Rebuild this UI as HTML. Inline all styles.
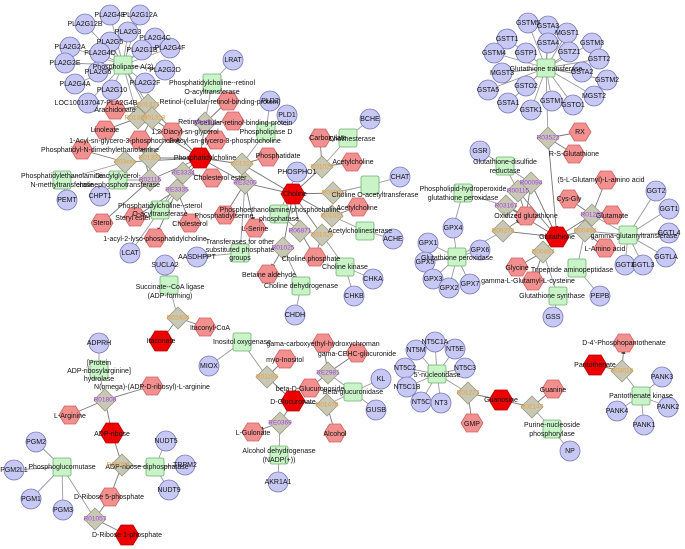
<!DOCTYPE html>
<html><head><meta charset="utf-8"><style>
html,body{margin:0;padding:0;background:#fff;}
svg{display:block;font-family:"Liberation Sans",sans-serif;}
.e{stroke:#9a9a9a;stroke-width:0.9;fill:none;}
.a{stroke:#777;stroke-width:0.9;fill:none;marker-end:url(#ar);}
text{font-size:7px;fill:#111;text-anchor:middle;dominant-baseline:middle;}
.o{fill:#e8a040;font-size:6.5px;}
.p{fill:#a040e0;font-size:6.5px;}
</style></head><body>
<svg width="685" height="549" viewBox="0 0 685 549" xmlns="http://www.w3.org/2000/svg">
<defs>
<marker id="ar" markerWidth="5" markerHeight="5" refX="12" refY="2.5" orient="auto"><path d="M0,0L5,2.5L0,5z" fill="#222"/></marker>
<circle id="g" r="10" fill="#c8c8f4" stroke="#7878b8" stroke-width="0.8"/>
<rect id="s" x="-9" y="-9" width="18" height="18" rx="2" fill="#c8f4c8" stroke="#70b070" stroke-width="0.8"/>
<polygon id="h" points="-11,0 -5.5,-9 5.5,-9 11,0 5.5,9 -5.5,9" fill="#f29090" stroke="#d06060" stroke-width="0.8"/>
<polygon id="r" points="-12,0 -6,-10 6,-10 12,0 6,10 -6,10" fill="#ee0000" stroke="#b00000" stroke-width="0.8"/>
<polygon id="d" points="0,-11 11,0 0,11 -11,0" fill="#c8c8b4" stroke="#9a9a88" stroke-width="0.8"/>
</defs>

<!-- edges: PLA cluster -->
<g class="e">
<path d="M110,15L123,65M140,15L123,65M85,24L123,65M128,32L123,65M110,42L123,65M155,38L123,65M142,50L123,65M170,48L123,65M70,47L123,65M100,53L123,65M65,63L123,65M165,70L123,65M75,84L123,65M98,72L123,65M145,83L123,65M112,90L123,65M88,103L123,65"/>
<path d="M123,65L148,105M123,65L138,118M123,65L152,118"/>
<path d="M233,60L212,83M212,83L205,123M270,101L266,132M287,115L266,132M266,132L242,164"/>
<path d="M67,200L62,180M62,180L125,162M100,196L118,180M118,180L150,180M130,253L160,210M160,210L183,173M160,210L177,190"/>
<path d="M197,257L240,253M240,253L245,183M297,172L279,214M279,214L300,231"/>
<path d="M370,119L348,138M348,138L322,167M400,177L370,185M370,185L333,193M393,239L365,231M365,231L332,216M373,279L345,267M354,296L345,267M345,267L322,235M295,315L301,286M301,286L283,248"/>
<!-- GST -->
<path d="M528,23L546,68M548,26L546,68M567,33L546,68M507,39L546,68M548,43L546,68M592,43L546,68M494,53L546,68M526,53L546,68M569,52L546,68M599,59L546,68M502,73L546,68M582,72L546,68M607,80L546,68M526,86L546,68M488,90L546,68M594,96L546,68M508,103L546,68M552,101L546,68M573,105L546,68M531,110L546,68M546,68L548,138"/>
<path d="M480,151L505,166M505,166L531,183M505,166L518,191M453,228L463,193M463,193L506,206"/>
<path d="M428,243L457,257M425,262L457,257M480,250L457,257M433,279L457,257M449,288L457,257M470,284L457,257M453,228L457,257M457,257L503,231"/>
<path d="M553,317L558,296M558,296L543,252M600,296L577,268M577,268L585,231M656,191L628,235M669,209L628,235M669,233L628,235M666,257L628,235M625,265L628,235M643,265L628,235M628,235L585,231M628,235L592,215"/>
<!-- bottom -->
<path d="M165,265L169,285M169,285L178,318M99,343L99,370M99,370L105,400M166,441L155,467M185,465L155,467M169,490L155,467M155,467L122,465"/>
<path d="M36,442L62,467M14,470L62,467M31,499L62,467M63,510L62,467M62,467L95,519"/>
<path d="M209,366L242,342M242,342L267,377M376,410L353,392M381,379L353,392M353,392L327,405M353,392L328,373M278,482L279,455M279,455L280,423"/>
<path d="M416,350L437,374M435,342L437,374M455,349L437,374M405,368L437,374M465,368L437,374M407,387L437,374M421,402L437,374M441,403L437,374M437,374L468,393M570,451L552,429M552,429L532,407"/>
<path d="M662,377L641,396M668,407L641,396M617,411L641,396M644,425L641,396M641,396L622,371"/>
</g>
<g class="a">
<path d="M148,105L115,110M138,118L105,130M152,118L172,132M148,105L200,158M152,118L140,140M138,118L200,158"/>
<path d="M205,123L228,101M205,123L233,121M205,123L200,158M205,123L216,140"/>
<path d="M242,164L268,157M242,164L200,158M242,164L293,194"/>
<path d="M125,162L82,150M125,162L200,158M150,158L200,158M150,158L140,140M150,158L172,132M150,180L200,158M150,180L102,223M150,180L140,140"/>
<path d="M183,173L200,158M183,173L212,178M177,190L190,223M177,190L135,217M177,190L200,158M177,190L155,238"/>
<path d="M245,183L200,158M245,183L293,194M245,183L225,215M245,183L255,228"/>
<path d="M300,231L293,194M300,231L315,257M322,167L293,194M322,167L320,138M322,167L352,162M333,193L293,194M332,216L358,207M332,216L293,194M322,235L293,194M322,235L315,257M283,248L293,194M283,248L268,274"/>
<path d="M548,138L580,132M548,138L574,154M548,138L557,237"/>
<path d="M531,183L526,216M531,183L557,237M518,191L526,216M518,191L557,237M506,206L526,216M506,206L557,237M503,231L557,237M503,231L526,216"/>
<path d="M543,252L517,267M543,252L533,281M543,252L557,237M585,231L557,237M585,231L605,248M592,215L569,199M592,215L606,180M592,215L612,215M592,215L557,237"/>
<path d="M178,318L205,327M178,318L161,341M105,400L152,386M105,400L70,415M105,400L112,433M112,433L122,465M122,465L110,497M95,519L110,497M95,519L127,535"/>
<path d="M267,377L285,359M267,377L293,401M328,373L323,343M328,373L357,353M328,373L310,388M327,405L293,401M327,405L335,433M280,423L293,401M280,423L253,432"/>
<path d="M468,393L472,423M468,393L501,400M532,407L501,400M532,407L553,389M622,371L595,365M622,371L624,343"/>
</g>

<!-- genes -->
<g>
<use href="#g" x="110" y="15"/><use href="#g" x="140" y="15"/><use href="#g" x="85" y="24"/><use href="#g" x="128" y="32"/><use href="#g" x="110" y="42"/><use href="#g" x="155" y="38"/><use href="#g" x="142" y="50"/><use href="#g" x="170" y="48"/><use href="#g" x="70" y="47"/><use href="#g" x="100" y="53"/><use href="#g" x="65" y="63"/><use href="#g" x="165" y="70"/><use href="#g" x="75" y="84"/><use href="#g" x="98" y="72"/><use href="#g" x="145" y="83"/><use href="#g" x="112" y="90"/><use href="#g" x="88" y="103"/>
<use href="#g" x="233" y="60"/><use href="#g" x="270" y="101"/><use href="#g" x="287" y="115"/><use href="#g" x="67" y="200"/><use href="#g" x="100" y="196"/><use href="#g" x="130" y="253"/><use href="#g" x="197" y="257"/><use href="#g" x="165" y="265"/><use href="#g" x="297" y="172"/><use href="#g" x="370" y="119"/><use href="#g" x="400" y="177"/><use href="#g" x="393" y="239"/><use href="#g" x="373" y="279"/><use href="#g" x="354" y="296"/><use href="#g" x="295" y="315"/>
<use href="#g" x="528" y="23"/><use href="#g" x="548" y="26"/><use href="#g" x="567" y="33"/><use href="#g" x="507" y="39"/><use href="#g" x="548" y="43"/><use href="#g" x="592" y="43"/><use href="#g" x="494" y="53"/><use href="#g" x="526" y="53"/><use href="#g" x="569" y="52"/><use href="#g" x="599" y="59"/><use href="#g" x="502" y="73"/><use href="#g" x="582" y="72"/><use href="#g" x="607" y="80"/><use href="#g" x="526" y="86"/><use href="#g" x="488" y="90"/><use href="#g" x="594" y="96"/><use href="#g" x="508" y="103"/><use href="#g" x="552" y="101"/><use href="#g" x="573" y="105"/><use href="#g" x="531" y="110"/>
<use href="#g" x="480" y="151"/><use href="#g" x="453" y="228"/><use href="#g" x="428" y="243"/><use href="#g" x="425" y="262"/><use href="#g" x="480" y="250"/><use href="#g" x="433" y="279"/><use href="#g" x="449" y="288"/><use href="#g" x="470" y="284"/><use href="#g" x="553" y="317"/><use href="#g" x="600" y="296"/>
<use href="#g" x="656" y="191"/><use href="#g" x="669" y="209"/><use href="#g" x="669" y="233"/><use href="#g" x="666" y="257"/><use href="#g" x="625" y="265"/><use href="#g" x="643" y="265"/>
<use href="#g" x="99" y="343"/><use href="#g" x="166" y="441"/><use href="#g" x="185" y="465"/><use href="#g" x="169" y="490"/><use href="#g" x="36" y="442"/><use href="#g" x="14" y="470"/><use href="#g" x="31" y="499"/><use href="#g" x="63" y="510"/><use href="#g" x="209" y="366"/><use href="#g" x="381" y="379"/><use href="#g" x="376" y="410"/><use href="#g" x="278" y="482"/>
<use href="#g" x="416" y="350"/><use href="#g" x="435" y="342"/><use href="#g" x="455" y="349"/><use href="#g" x="405" y="368"/><use href="#g" x="465" y="368"/><use href="#g" x="407" y="387"/><use href="#g" x="421" y="402"/><use href="#g" x="441" y="403"/><use href="#g" x="570" y="451"/>
<use href="#g" x="662" y="377"/><use href="#g" x="668" y="407"/><use href="#g" x="617" y="411"/><use href="#g" x="644" y="425"/>
</g>
<!-- enzymes -->
<g>
<use href="#s" x="123" y="65"/><use href="#s" x="212" y="83"/><use href="#s" x="266" y="132"/><use href="#s" x="62" y="180"/><use href="#s" x="118" y="180"/><use href="#s" x="160" y="210"/><use href="#s" x="240" y="253"/><use href="#s" x="279" y="214"/><use href="#s" x="348" y="138"/><use href="#s" x="370" y="185"/><use href="#s" x="365" y="231"/><use href="#s" x="345" y="267"/><use href="#s" x="301" y="286"/>
<use href="#s" x="546" y="68"/><use href="#s" x="505" y="166"/><use href="#s" x="463" y="193"/><use href="#s" x="457" y="257"/><use href="#s" x="558" y="296"/><use href="#s" x="577" y="268"/><use href="#s" x="628" y="235"/>
<use href="#s" x="169" y="285"/><use href="#s" x="99" y="370"/><use href="#s" x="155" y="467"/><use href="#s" x="62" y="467"/><use href="#s" x="242" y="342"/><use href="#s" x="353" y="392"/><use href="#s" x="279" y="455"/><use href="#s" x="437" y="374"/><use href="#s" x="552" y="429"/><use href="#s" x="641" y="396"/>
</g>
<!-- diamonds -->
<g>
<use href="#d" x="148" y="105"/><use href="#d" x="138" y="118"/><use href="#d" x="152" y="118"/><use href="#d" x="205" y="123"/><use href="#d" x="242" y="164"/><use href="#d" x="125" y="162"/><use href="#d" x="150" y="158"/><use href="#d" x="150" y="180"/><use href="#d" x="183" y="173"/><use href="#d" x="177" y="190"/><use href="#d" x="245" y="183"/><use href="#d" x="300" y="231"/><use href="#d" x="322" y="167"/><use href="#d" x="333" y="193"/><use href="#d" x="332" y="216"/><use href="#d" x="322" y="235"/><use href="#d" x="283" y="248"/>
<use href="#d" x="548" y="138"/><use href="#d" x="531" y="183"/><use href="#d" x="518" y="191"/><use href="#d" x="506" y="206"/><use href="#d" x="503" y="231"/><use href="#d" x="543" y="252"/><use href="#d" x="585" y="231"/><use href="#d" x="592" y="215"/>
<use href="#d" x="178" y="318"/><use href="#d" x="105" y="400"/><use href="#d" x="122" y="465"/><use href="#d" x="95" y="519"/><use href="#d" x="267" y="377"/><use href="#d" x="328" y="373"/><use href="#d" x="327" y="405"/><use href="#d" x="280" y="423"/><use href="#d" x="468" y="393"/><use href="#d" x="532" y="407"/><use href="#d" x="622" y="371"/>
</g>
<!-- metabolites -->
<g>
<use href="#h" x="115" y="110"/><use href="#h" x="105" y="130"/><use href="#h" x="172" y="132"/><use href="#h" x="140" y="140"/><use href="#h" x="216" y="140"/><use href="#h" x="228" y="101"/><use href="#h" x="233" y="121"/><use href="#h" x="82" y="150"/><use href="#h" x="268" y="157"/><use href="#h" x="212" y="178"/><use href="#h" x="102" y="223"/><use href="#h" x="135" y="217"/><use href="#h" x="190" y="223"/><use href="#h" x="225" y="215"/><use href="#h" x="255" y="228"/><use href="#h" x="155" y="238"/><use href="#h" x="320" y="138"/><use href="#h" x="352" y="162"/><use href="#h" x="358" y="207"/><use href="#h" x="315" y="257"/><use href="#h" x="268" y="274"/>
<use href="#h" x="580" y="132"/><use href="#h" x="574" y="154"/><use href="#h" x="526" y="216"/><use href="#h" x="606" y="180"/><use href="#h" x="569" y="199"/><use href="#h" x="612" y="215"/><use href="#h" x="605" y="248"/><use href="#h" x="517" y="267"/><use href="#h" x="533" y="281"/>
<use href="#h" x="205" y="327"/><use href="#h" x="152" y="386"/><use href="#h" x="70" y="415"/><use href="#h" x="110" y="497"/><use href="#h" x="285" y="359"/><use href="#h" x="323" y="343"/><use href="#h" x="357" y="353"/><use href="#h" x="310" y="388"/><use href="#h" x="253" y="432"/><use href="#h" x="335" y="433"/><use href="#h" x="472" y="423"/><use href="#h" x="553" y="389"/><use href="#h" x="624" y="343"/>
<use href="#r" x="200" y="158"/><use href="#r" x="293" y="194"/><use href="#r" x="557" y="237"/><use href="#r" x="161" y="341"/><use href="#r" x="112" y="433"/><use href="#r" x="127" y="535"/><use href="#r" x="293" y="401"/><use href="#r" x="501" y="400"/><use href="#r" x="595" y="365"/>
</g>

<!-- labels -->
<g>
<text x="110" y="15">PLA2G4E</text><text x="140" y="15">PLA2G12A</text><text x="85" y="24">PLA2G12B</text><text x="128" y="32">PLA2G3</text><text x="110" y="42">PLA2G5</text><text x="155" y="38">PLA2G4C</text><text x="142" y="50">PLA2G1B</text><text x="170" y="48">PLA2G4F</text><text x="70" y="47">PLA2G2A</text><text x="100" y="53">PLA2G4D</text><text x="65" y="63">PLA2G2E</text><text x="165" y="70">PLA2G2D</text><text x="75" y="84">PLA2G4A</text><text x="98" y="72">PLA2G6</text><text x="145" y="83">PLA2G2F</text><text x="112" y="90">PLA2G10</text><text x="96" y="103">LOC100137047-PLA2G4B</text>
<text x="123" y="67">Phospholipase A(2)</text>
<text x="233" y="60">LRAT</text><text x="270" y="101">PLD2</text><text x="287" y="115">PLD1</text>
<text x="212" y="83">Phosphatidylcholine--retinol</text><text x="212" y="92">O-acyltransferase</text>
<text x="220" y="102">Retinol-(cellular-retinol-binding-protein)</text>
<text x="190" y="122">Retinyl-</text><text x="245" y="123">-cellular-retinol-binding-protein</text>
<text x="266" y="132">Phospholipase D</text>
<text x="115" y="110">Arachidonate</text><text x="105" y="130">Linoleate</text><text x="185" y="132">1,2-Diacyl-sn-glycerol</text>
<text x="125" y="141">1-Acyl-sn-glycero-3-phosphocholine</text><text x="225" y="141">2-Acyl-sn-glycero-3-phosphocholine</text>
<text x="100" y="150">Phosphatidyl-N-dimethylethanolamine</text>
<text x="205" y="158">Phosphatidylcholine</text><text x="278" y="156">Phosphatidate</text>
<text x="62" y="176">Phosphatidylethanolamine</text><text x="62" y="185">N-methyltransferase</text>
<text x="118" y="176">Diacylglycerol-</text><text x="118" y="185">cholinephosphotransferase</text>
<text x="67" y="200">PEMT</text><text x="100" y="196">CHPT1</text>
<text x="220" y="178">Cholesterol ester</text>
<text x="160" y="206">Phosphatidylcholine--sterol</text><text x="160" y="214">O-acyltransferase</text>
<text x="102" y="223">Sterol</text><text x="133" y="218">Steryl ester</text><text x="190" y="224">Cholesterol</text>
<text x="224" y="216">Phosphatidylserine</text><text x="255" y="229">L-Serine</text>
<text x="155" y="239">1-acyl-2-lyso-phosphatidylcholine</text>
<text x="130" y="253">LCAT</text><text x="197" y="257">AASDHPPT</text>
<text x="240" y="242">Transferases for other</text><text x="240" y="250">substituted phosphate</text><text x="240" y="258">groups</text>
<text x="280" y="210">Phosphoethanolamine/phosphocholine</text><text x="279" y="219">phosphatase</text>
<text x="297" y="172">PHOSPHO1</text><text x="295" y="194">Choline</text>
<text x="328" y="138">Carboxylate</text><text x="352" y="139">Cholinesterase</text><text x="370" y="119">BCHE</text>
<text x="353" y="162">Acetylcholine</text><text x="375" y="195">Choline O-acetyltransferase</text><text x="400" y="177">CHAT</text>
<text x="357" y="208">Acetylcholine</text><text x="360" y="231">Acetylcholinesterase</text><text x="393" y="239">ACHE</text>
<text x="311" y="259">Choline phosphate</text><text x="269" y="275">Betaine aldehyde</text>
<text x="345" y="267">Choline kinase</text><text x="373" y="279">CHKA</text><text x="354" y="296">CHKB</text>
<text x="301" y="286">Choline dehydrogenase</text><text x="295" y="315">CHDH</text>

<text x="528" y="23">GSTM5</text><text x="548" y="26">GSTA3</text><text x="567" y="33">MGST1</text><text x="507" y="39">GSTT1</text><text x="548" y="43">GSTA4</text><text x="592" y="43">GSTM3</text><text x="494" y="53">GSTM4</text><text x="526" y="53">GSTP1</text><text x="569" y="52">GSTZ1</text><text x="599" y="59">GSTT2</text><text x="502" y="73">MGST3</text><text x="582" y="72">GSTA2</text><text x="607" y="80">GSTM2</text><text x="526" y="86">GSTO2</text><text x="488" y="90">GSTA5</text><text x="594" y="96">MGST2</text><text x="508" y="103">GSTA1</text><text x="552" y="101">GSTM1</text><text x="573" y="105">GSTO1</text><text x="531" y="110">GSTK1</text>
<text x="546" y="69">Glutathione transferase</text>
<text x="580" y="132">RX</text><text x="574" y="154">R-S-Glutathione</text>
<text x="480" y="151">GSR</text><text x="505" y="162">Glutathione-disulfide</text><text x="505" y="171">reductase</text>
<text x="463" y="189">Phospholipid-hydroperoxide</text><text x="463" y="198">glutathione peroxidase</text>
<text x="526" y="216">Oxidized glutathione</text><text x="557" y="237">Glutathione</text>
<text x="601" y="180">(5-L-Glutamyl)-L-amino acid</text><text x="569" y="199">Cys-Gly</text><text x="612" y="216">Glutamate</text>
<text x="634" y="236">gamma-glutamyltransferase</text><text x="605" y="249">L-Amino acid</text>
<text x="656" y="191">GGT2</text><text x="669" y="209">GGT1</text><text x="669" y="233">GGTL4</text><text x="666" y="257">GGTLA</text><text x="625" y="265">GGT3</text><text x="643" y="265">GGTL3</text>
<text x="453" y="228">GPX4</text><text x="428" y="243">GPX1</text><text x="425" y="262">GPX5</text><text x="480" y="250">GPX6</text><text x="433" y="279">GPX3</text><text x="449" y="288">GPX2</text><text x="470" y="284">GPX7</text>
<text x="457" y="258">Glutathione peroxidase</text>
<text x="517" y="268">Glycine</text><text x="572" y="270">Tripeptide aminopeptidase</text>
<text x="528" y="281">gamma-L-Glutamyl-L-cysteine</text><text x="552" y="296">Glutathione synthase</text>
<text x="553" y="317">GSS</text><text x="600" y="296">PEPB</text>

<text x="165" y="265">SUCLA2</text>
<text x="170" y="287">Succinate--CoA ligase</text><text x="170" y="296">(ADP-forming)</text>
<text x="210" y="328">Itaconyl-CoA</text><text x="161" y="341">Itaconate</text>
<text x="99" y="343">ADPRH</text>
<text x="99" y="363">[Protein</text><text x="99" y="371">ADP-ribosylarginine]</text><text x="99" y="379">hydrolase</text>
<text x="152" y="387">N(omega)-(ADP-D-ribosyl)-L-arginine</text>
<text x="70" y="416">L-Arginine</text><text x="112" y="434">ADP-ribose</text>
<text x="147" y="467">ADP-ribose diphosphatase</text>
<text x="166" y="441">NUDT5</text><text x="185" y="465">TRPM2</text><text x="169" y="490">NUDT9</text>
<text x="36" y="442">PGM2</text><text x="14" y="470">PGM2L1</text><text x="31" y="499">PGM1</text><text x="63" y="510">PGM3</text>
<text x="62" y="467">Phosphoglucomutase</text>
<text x="109" y="497">D-Ribose 5-phosphate</text><text x="127" y="535">D-Ribose 1-phosphate</text>
<text x="242" y="342">Inositol oxygenase</text><text x="209" y="366">MIOX</text><text x="285" y="360">myo-Inositol</text>
<text x="323" y="344">gama-carboxyethyl-hydroxychroman</text><text x="357" y="354">gama-CEHC-glucuronide</text>
<text x="310" y="389">beta-D-Glucuronoside</text><text x="353" y="392">Beta-glucuronidase</text>
<text x="293" y="402">D-Glucuronate</text><text x="253" y="433">L-Gulonate</text><text x="335" y="434">Alcohol</text>
<text x="279" y="451">Alcohol dehydrogenase</text><text x="279" y="460">(NADP(+))</text><text x="278" y="482">AKR1A1</text>
<text x="381" y="379">KL</text><text x="376" y="410">GUSB</text>
<text x="416" y="350">NT5M</text><text x="435" y="342">NT5C1A</text><text x="455" y="349">NT5E</text><text x="405" y="368">NT5C2</text><text x="465" y="368">NT5C3</text><text x="407" y="387">NT5C1B</text><text x="421" y="402">NT5C</text><text x="441" y="403">NT3</text>
<text x="437" y="375">5'-nucleotidase</text>
<text x="472" y="424">GMP</text><text x="501" y="400">Guanosine</text><text x="553" y="390">Guanine</text>
<text x="552" y="425">Purine-nucleoside</text><text x="552" y="434">phosphorylase</text><text x="570" y="451">NP</text>
<text x="624" y="343">D-4'-Phosphopantothenate</text><text x="595" y="365">Pantothenate</text>
<text x="641" y="396">Pantothenate kinase</text>
<text x="662" y="377">PANK3</text><text x="668" y="407">PANK2</text><text x="617" y="411">PANK4</text><text x="644" y="425">PANK1</text>
</g>
<g>
<text class="o" x="148" y="105">R01317</text><text class="o" x="136" y="118">R01315</text><text class="o" x="154" y="118">R01313</text>
<text class="p" x="205" y="123">R04517</text><text class="o" x="242" y="164">R01310</text>
<text class="o" x="125" y="162">R03xxx</text><text class="o" x="150" y="158">R01321</text><text class="p" x="150" y="180">R02116</text>
<text class="p" x="183" y="173">RE3334</text><text class="p" x="177" y="190">RE3335</text><text class="p" x="245" y="183">RE3200</text>
<text class="p" x="300" y="231">R06871</text><text class="o" x="322" y="167">R01026</text><text class="o" x="333" y="193">R01021</text><text class="o" x="332" y="216">R01022</text><text class="o" x="322" y="235">R01023</text><text class="p" x="283" y="248">R01025</text>
<text class="p" x="548" y="138">R03522</text><text class="p" x="531" y="183">R00094</text><text class="p" x="518" y="191">R00115</text><text class="p" x="506" y="206">R03167</text>
<text class="o" x="503" y="231">R00274</text><text class="o" x="543" y="252">R00497</text><text class="o" x="585" y="231">R00494</text><text class="p" x="592" y="215">R01262</text>
<text class="o" x="178" y="318">R02404</text><text class="p" x="105" y="400">R01808</text><text class="o" x="118" y="465">R01054</text><text class="p" x="95" y="519">R01057</text>
<text class="o" x="267" y="377">R01184</text><text class="p" x="328" y="373">RE2981</text><text class="o" x="327" y="405">R01478</text><text class="p" x="280" y="423">RE0369</text>
<text class="o" x="468" y="393">R01227</text><text class="o" x="532" y="407">R02147</text><text class="o" x="622" y="371">R03018</text>
</g>
</svg>
</body></html>
